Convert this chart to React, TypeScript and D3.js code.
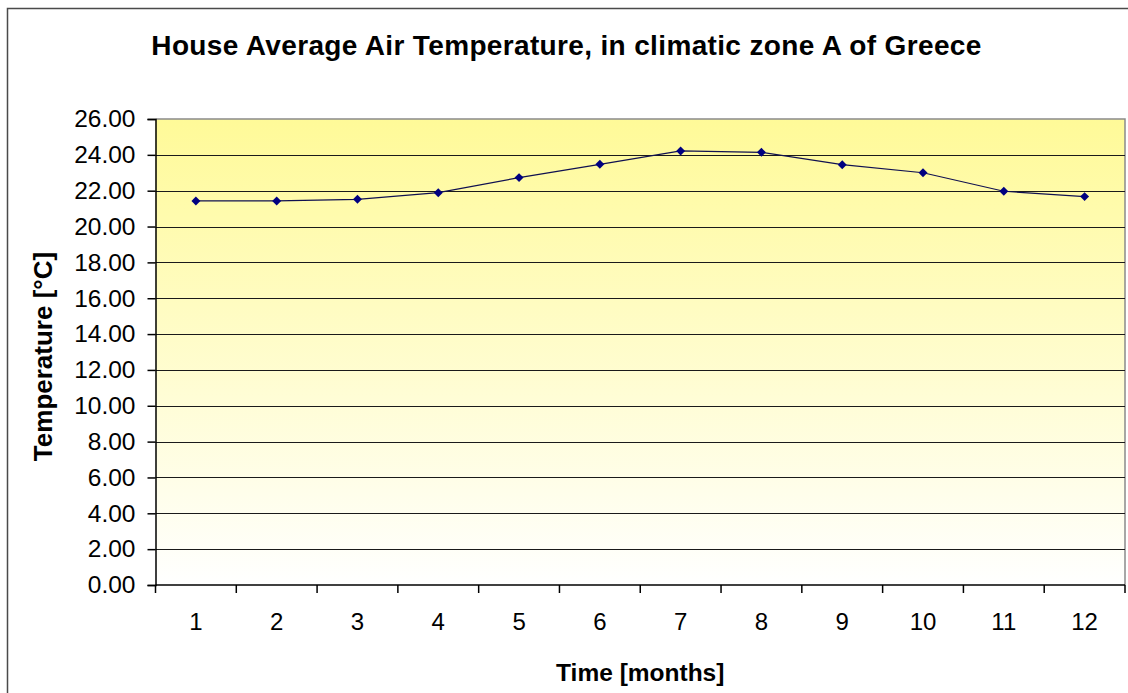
import React, { useEffect, useRef } from "react";
import * as d3 from "d3";

// Monthly house average air temperature (°C)
const months = [1, 2, 3, 4, 5, 6, 7, 8, 9, 10, 11, 12];
const temperatures = [21.43, 21.43, 21.52, 21.89, 22.73, 23.47, 24.22, 24.14, 23.45, 23.0, 21.97, 21.67];
const yTicks = [0, 2, 4, 6, 8, 10, 12, 14, 16, 18, 20, 22, 24, 26];

const TITLE = "House Average Air Temperature, in climatic zone A of Greece";
const X_LABEL = "Time [months]";
const Y_LABEL = "Temperature [°C]";

const W = 1128;
const H = 693;
const plot = { left: 155.5, right: 1125, top: 119, bottom: 585 };

export default function App() {
  const ref = useRef<SVGSVGElement | null>(null);

  useEffect(() => {
    const svg = d3.select(ref.current);
    svg.selectAll("*").remove();

    const font = "'Liberation Sans', Arial, sans-serif";

    const x = d3
      .scaleBand<number>()
      .domain(months)
      .range([plot.left, plot.right])
      .paddingInner(0)
      .paddingOuter(0);
    const y = d3.scaleLinear().domain([0, 26]).range([plot.bottom, plot.top]);

    // background
    svg.append("rect").attr("width", W).attr("height", H).attr("fill", "#ffffff");

    // chart area border
    svg
      .append("rect")
      .attr("x", 7.5)
      .attr("y", 8.5)
      .attr("width", W + 20)
      .attr("height", H + 20)
      .attr("fill", "none")
      .attr("stroke", "#4a4a4a")
      .attr("stroke-width", 1.5);

    // plot area gradient
    const defs = svg.append("defs");
    const grad = defs
      .append("linearGradient")
      .attr("id", "plotFill")
      .attr("x1", 0)
      .attr("y1", 0)
      .attr("x2", 0)
      .attr("y2", 1);
    grad.append("stop").attr("offset", "0%").attr("stop-color", "#fffa98");
    grad.append("stop").attr("offset", "100%").attr("stop-color", "#ffffff");

    svg
      .append("rect")
      .attr("x", plot.left)
      .attr("y", plot.top)
      .attr("width", plot.right - plot.left)
      .attr("height", plot.bottom - plot.top)
      .attr("fill", "url(#plotFill)");

    // plot border (top & right)
    svg
      .append("path")
      .attr("d", `M${plot.left},${plot.top}H${plot.right}V${plot.bottom}`)
      .attr("fill", "none")
      .attr("stroke", "#8a8a8a")
      .attr("stroke-width", 1.5);

    // horizontal gridlines
    svg
      .append("g")
      .selectAll("line")
      .data(yTicks.filter((t) => t > 0 && t < 26))
      .join("line")
      .attr("x1", plot.left)
      .attr("x2", plot.right)
      .attr("y1", (d) => Math.round(y(d)) + 0.5)
      .attr("y2", (d) => Math.round(y(d)) + 0.5)
      .attr("stroke", "#1a1a1a")
      .attr("stroke-width", 1);

    // y axis
    const yAxis = d3
      .axisLeft(y)
      .tickValues(yTicks)
      .tickSize(8)
      .tickPadding(12)
      .tickFormat((d) => d3.format(".2f")(d as number));
    const gy = svg.append("g").attr("transform", `translate(${plot.left},0)`).call(yAxis);
    gy.select(".domain").attr("stroke", "#000").attr("stroke-width", 1.5);
    gy.selectAll(".tick line").attr("stroke", "#000").attr("stroke-width", 1.5);
    gy.selectAll("text")
      .attr("font-family", font)
      .attr("font-size", 24.5)
      .attr("fill", "#000");

    // x axis: ticks at category boundaries, labels centered
    const boundaries = d3.range(0, months.length + 1).map((i) => plot.left + i * x.bandwidth());
    svg
      .append("line")
      .attr("x1", plot.left)
      .attr("x2", plot.right)
      .attr("y1", plot.bottom)
      .attr("y2", plot.bottom)
      .attr("stroke", "#000")
      .attr("stroke-width", 1.5);
    svg
      .append("g")
      .selectAll("line")
      .data(boundaries)
      .join("line")
      .attr("x1", (d) => d)
      .attr("x2", (d) => d)
      .attr("y1", plot.bottom)
      .attr("y2", plot.bottom + 8)
      .attr("stroke", "#000")
      .attr("stroke-width", 1.5);
    svg
      .append("g")
      .selectAll("text")
      .data(months)
      .join("text")
      .attr("x", (d) => (x(d) as number) + x.bandwidth() / 2)
      .attr("y", 630)
      .attr("text-anchor", "middle")
      .attr("font-family", font)
      .attr("font-size", 24)
      .attr("fill", "#000")
      .text((d) => String(d));

    // series line
    const line = d3
      .line<number>()
      .x((_, i) => (x(months[i]) as number) + x.bandwidth() / 2)
      .y((d) => y(d));
    svg
      .append("path")
      .datum(temperatures)
      .attr("d", line)
      .attr("fill", "none")
      .attr("stroke", "#101050")
      .attr("stroke-width", 1.2);

    // diamond markers (rotated squares)
    const diamond = d3.symbol().type(d3.symbolSquare).size(40);
    svg
      .append("g")
      .selectAll("path")
      .data(temperatures)
      .join("path")
      .attr("d", diamond)
      .attr(
        "transform",
        (d, i) =>
          `translate(${(x(months[i]) as number) + x.bandwidth() / 2},${y(d)}) rotate(45)`
      )
      .attr("fill", "#000080");

    // title
    svg
      .append("text")
      .attr("x", 566.5)
      .attr("y", 55)
      .attr("text-anchor", "middle")
      .attr("font-family", font)
      .attr("font-weight", "bold")
      .attr("font-size", 28)
      .attr("letter-spacing", 0.35)
      .attr("fill", "#000")
      .text(TITLE);

    // x axis title
    svg
      .append("text")
      .attr("x", (plot.left + plot.right) / 2)
      .attr("y", 681)
      .attr("text-anchor", "middle")
      .attr("font-family", font)
      .attr("font-weight", "bold")
      .attr("font-size", 24.5)
      .attr("fill", "#000")
      .text(X_LABEL);

    // y axis title
    svg
      .append("text")
      .attr("transform", `translate(52,${(250 + 463) / 2}) rotate(-90)`)
      .attr("text-anchor", "middle")
      .attr("font-family", font)
      .attr("font-weight", "bold")
      .attr("font-size", 26)
      .attr("fill", "#000")
      .text(Y_LABEL);
  }, []);

  return (
    <svg
      ref={ref}
      width={W}
      height={H}
      style={{ position: "absolute", left: 0, top: 0, display: "block" }}
    />
  );
}
